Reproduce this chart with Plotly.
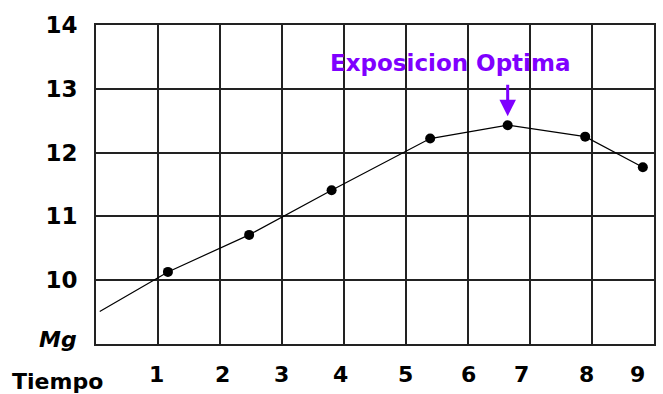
import plotly.graph_objects as go

# Magnesium level over time
tiempo = [0.06, 1.16, 2.47, 3.80, 5.39, 6.64, 7.89, 8.82]
mg = [9.51, 10.13, 10.71, 11.41, 12.22, 12.43, 12.25, 11.77]
show_marker = [False, True, True, True, True, True, True, True]

x_labels = ["1", "2", "3", "4", "5", "6", "7", "8", "9"]
x_label_pos = [0.98, 2.04, 2.99, 3.95, 4.99, 6.01, 6.87, 7.91, 8.74]
y_ticks = [10, 11, 12, 13, 14]

peak_idx = mg.index(max(mg))

FONT = "Comic Sans MS, DejaVu Sans, sans-serif"
PURPLE = "#7f00ff"

fig = go.Figure()
fig.add_trace(go.Scatter(
    x=tiempo, y=mg, mode="lines+markers",
    line=dict(color="black", width=1.2),
    marker=dict(color="black", size=[10 if s else 0 for s in show_marker],
                line=dict(width=0), opacity=1),
    hoverinfo="skip", showlegend=False,
))

annotations = []
for lab, pos in zip(x_labels, x_label_pos):
    annotations.append(dict(
        x=pos, y=0, xref="x", yref="paper", text=lab, showarrow=False,
        xanchor="center", yanchor="middle", yshift=-30,
        font=dict(family=FONT, size=22, color="black", weight="bold"),
    ))
annotations.append(dict(
    x=0, y=0, xref="paper", yref="paper", text="Tiempo", showarrow=False,
    xanchor="center", yanchor="middle", xshift=-39, yshift=-37,
    font=dict(family=FONT, size=22, color="black", weight="bold"),
))
annotations.append(dict(
    x=0, y=0, xref="paper", yref="paper", text="<i>Mg</i>", showarrow=False,
    xanchor="center", yanchor="middle", xshift=-38, yshift=5,
    font=dict(family=FONT, size=22, color="black", weight="bold"),
))
annotations.append(dict(
    x=tiempo[peak_idx], y=mg[peak_idx], xref="x", yref="y", text="",
    showarrow=True, ax=0, ay=-42, standoff=9,
    arrowhead=2, arrowsize=1.1, arrowwidth=3, arrowcolor=PURPLE,
))
annotations.append(dict(
    x=5.71, y=13.41, xref="x", yref="y", text="Exposicion Optima",
    showarrow=False, xanchor="center", yanchor="middle",
    font=dict(family=FONT, size=23, color=PURPLE, weight="bold"),
))

fig.update_layout(
    width=663, height=394,
    margin=dict(l=96, r=7, t=25, b=50),
    paper_bgcolor="white", plot_bgcolor="white",
    annotations=annotations,
    xaxis=dict(
        range=[0, 9], dtick=1, tick0=0, showticklabels=False,
        showgrid=True, gridcolor="#222", gridwidth=1.8,
        showline=True, linecolor="#222", linewidth=1.8, mirror=True,
        zeroline=False, ticks="", fixedrange=True,
    ),
    yaxis=dict(
        range=[9, 14], tickvals=y_ticks, ticktext=[str(v) for v in y_ticks],
        showgrid=True, gridcolor="#222", gridwidth=1.8,
        showline=True, linecolor="#222", linewidth=1.8, mirror=True,
        zeroline=False, ticks="", ticklabelstandoff=12,
        tickfont=dict(family=FONT, size=23, color="black", weight="bold"),
        fixedrange=True,
    ),
)

fig.write_html("out.html")
